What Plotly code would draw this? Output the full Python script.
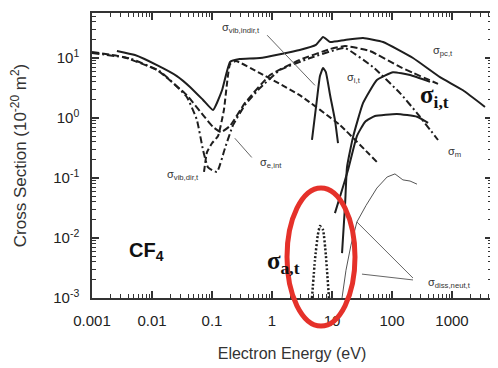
import plotly.graph_objects as go

# ---------------- data (energy in eV, cross section in 1e-20 m^2) ----------------
pc_E = [0.0026, 0.0052, 0.0121, 0.026, 0.043, 0.071, 0.104, 0.147, 0.2, 0.29, 0.63, 2.9, 5.4, 7.1,
        9.3, 16.5, 33, 71, 224, 631, 1525, 3550]
pc_S = [13.1, 11.2, 7.6, 5.0, 3.3, 2.0, 1.36, 2.9, 8.6, 9.6, 10, 13.6, 16.5, 22.4,
        18.5, 20, 21.5, 18.5, 10, 4.8, 2.9, 1.53]

eint_E = [0.001, 0.0033, 0.0121, 0.038, 0.071, 0.104, 0.141, 0.2, 0.355, 0.93, 2.9, 9.3, 16.5, 43, 136, 585]
eint_S = [12.6, 10.4, 6.3, 2.4, 1.12, 0.71, 0.58, 0.74, 1.78, 5.2, 9.3, 14.1, 15.8, 13.1, 7.1, 3.7]

m_E = [0.001, 0.0043, 0.0136, 0.038, 0.056, 0.071, 0.086, 0.121, 0.165, 0.224, 0.355, 0.63, 1.36,
       4.3, 11.2, 16.5, 48, 136, 261, 585]
m_S = [12.1, 9.8, 6.0, 2.24, 0.93, 0.29, 0.15, 0.126, 0.316, 0.76, 1.65, 3.16, 6.3,
       10, 13.6, 14.7, 7.1, 2.6, 1.21, 0.43]

vdir_E = [0.0736, 0.0826, 0.1, 0.126, 0.158, 0.2, 0.25, 0.63, 2.9, 13.6, 56]
vdir_S = [0.126, 0.27, 0.38, 0.5, 1.36, 7.9, 8.9, 5.6, 2.4, 0.76, 0.185]

vind_E = [4.64, 5.6, 6.3, 7.1, 7.9, 9.3, 11.2, 12.6]
vind_S = [0.43, 2.0, 5.0, 6.8, 5.8, 2.4, 0.93, 0.38]

ion_E = [14.7, 16.5, 17.8, 22.4, 33, 56, 104, 200, 430]
ion_S = [0.0056, 0.035, 0.152, 0.48, 1.78, 4.3, 5.8, 5.2, 4.0]

low_E = [11.2, 14.7, 18.5, 26, 35.5, 52, 121, 261, 400]
low_S = [0.026, 0.063, 0.136, 0.5, 0.86, 1.08, 1.17, 1.05, 0.83]

diss_E = [14.7, 17.1, 20.7, 26, 37, 56, 83, 112, 152, 200, 261]
diss_S = [0.001, 0.0029, 0.0076, 0.0185, 0.035, 0.068, 0.104, 0.117, 0.093, 0.089, 0.079]

att_E = [4.64, 5.2, 5.8, 6.3, 7.1, 7.9, 8.9]
att_S = [0.001, 0.0043, 0.0112, 0.0158, 0.0136, 0.0052, 0.001]

# label leader lines (energy, cross section)
lead_vind_E = [0.83, 5.2]
lead_vind_S = [24, 3.5]
lead_eint_E = [0.24, 0.46]
lead_eint_S = [0.46, 0.22]
lead_diss1_E = [26, 224]
lead_diss1_S = [0.0185, 0.00215]
lead_diss2_E = [31.6, 224]
lead_diss2_S = [0.0025, 0.002]

x_tickvals = [0.001, 0.01, 0.1, 1, 10, 100, 1000]
x_ticktext = ["0.001", "0.01", "0.1", "1", "10", "100", "1000"]
y_tickvals = [0.001, 0.01, 0.1, 1, 10]
y_ticktext = ["10<sup>-3</sup>", "10<sup>-2</sup>", "10<sup>-1</sup>", "10<sup>0</sup>", "10<sup>1</sup>"]
minor_vals = [m * 10.0 ** d for d in range(-3, 4) for m in range(2, 10)]

# ---------------- figure geometry ----------------
# the page body adds an 8px margin, so the figure is placed 8px right/down on screen
OFF = 8
SL, SR, ST, SB = 92, 492, 13, 298          # plot area as seen on screen
W, H = 490, 360
L, T = SL - OFF, ST - OFF
R, B = W - (SR - OFF), H - (SB - OFF)


def px(x):
    return (x - SL) / (SR - SL)


def py(y):
    return (SB - y) / (SB - ST)


INK = "#1e1e1e"
fig = go.Figure()


def add(xs, ys, color=INK, width=2.0, dash="solid", smooth=0.4):
    fig.add_trace(go.Scatter(x=xs, y=ys, mode="lines",
                             line=dict(color=color, width=width, dash=dash,
                                       shape="spline" if smooth else "linear", smoothing=smooth or None),
                             hoverinfo="skip", showlegend=False))


add(pc_E, pc_S, width=2.0)
add(eint_E, eint_S, width=2.0, dash="7px,3px")
add(m_E, m_S, width=2.0, dash="7px,3px,2px,3px")
add(vdir_E, vdir_S, width=2.0, dash="6px,3px")
add(vind_E, vind_S, width=2.0)
add(ion_E, ion_S, width=2.0)
add(low_E, low_S, width=2.0)
add(diss_E, diss_S, color="#555555", width=1.0, smooth=0)
add(att_E, att_S, width=2.5, dash="2px,2px")

for xs, ys in [(lead_vind_E, lead_vind_S), (lead_eint_E, lead_eint_S),
               (lead_diss1_E, lead_diss1_S), (lead_diss2_E, lead_diss2_S)]:
    fig.add_trace(go.Scatter(x=xs, y=ys, mode="lines", line=dict(color="#666666", width=1),
                             hoverinfo="skip", showlegend=False))

small = dict(family="Liberation Sans, Arial, sans-serif", size=11, color="#333333")
big = dict(family="Liberation Serif, Times New Roman, serif", size=25, color="#111111")


def ann(text, x, y, font):
    fig.add_annotation(text=text, x=px(x), y=py(y), xref="paper", yref="paper",
                       showarrow=False, xanchor="center", yanchor="middle", font=font)


ann("σ<sub>vib,indir,t</sub>", 241, 28, small)
ann("σ<sub>pc,t</sub>", 443, 51, small)
ann("σ<sub>i,t</sub>", 354, 78, small)
ann("σ<sub>m</sub>", 454, 152, small)
ann("σ<sub>e,int</sub>", 271, 163, small)
ann("σ<sub>vib,dir,t</sub>", 183, 175, small)
ann("σ<sub>diss,neut,t</sub>", 449, 283, small)
ann("<b>σ<sub>i,t</sub></b>", 434, 96, big)
ann("<b>σ<sub>a,t</sub></b>", 283, 262, big)
ann("<b>CF<sub>4</sub></b>", 146, 252, dict(family="Liberation Sans, Arial, sans-serif", size=20, color="#111111"))

# red highlight ellipse
fig.add_shape(type="circle", xref="paper", yref="paper",
              x0=px(287), x1=px(355), y0=py(326), y1=py(188),
              line=dict(color="#e5312a", width=5), layer="above")

axis_common = dict(type="log", showline=True, linecolor="#333333", linewidth=1.5, mirror="ticks",
                   ticks="inside", ticklen=7, tickwidth=1.5, tickcolor="#333333",
                   showgrid=False, zeroline=False, automargin=False,
                   tickfont=dict(family="Liberation Sans, Arial, sans-serif", size=15, color="#222222"),
                   minor=dict(tickmode="array", tickvals=minor_vals, ticks="inside", ticklen=4,
                              tickwidth=1, tickcolor="#333333", showgrid=False))

fig.update_xaxes(**axis_common, range=[-3, 3.667], tickvals=x_tickvals, ticktext=x_ticktext,
                 ticklabelstandoff=8,
                 title=dict(text="Electron Energy (eV)", standoff=20,
                            font=dict(family="Liberation Sans, Arial, sans-serif", size=16, color="#333333")))
fig.update_yaxes(**axis_common, range=[-3, 1.75], tickvals=y_tickvals, ticktext=y_ticktext,
                 ticklabelstandoff=8,
                 title=dict(text="Cross Section (10<sup>-20</sup> m<sup>2</sup>)", standoff=22,
                            font=dict(family="Liberation Sans, Arial, sans-serif", size=17, color="#333333")))

fig.update_layout(width=W, height=H, margin=dict(l=L, r=R, t=T, b=B, autoexpand=False),
                  paper_bgcolor="white", plot_bgcolor="white")

fig.write_html("out.html")
